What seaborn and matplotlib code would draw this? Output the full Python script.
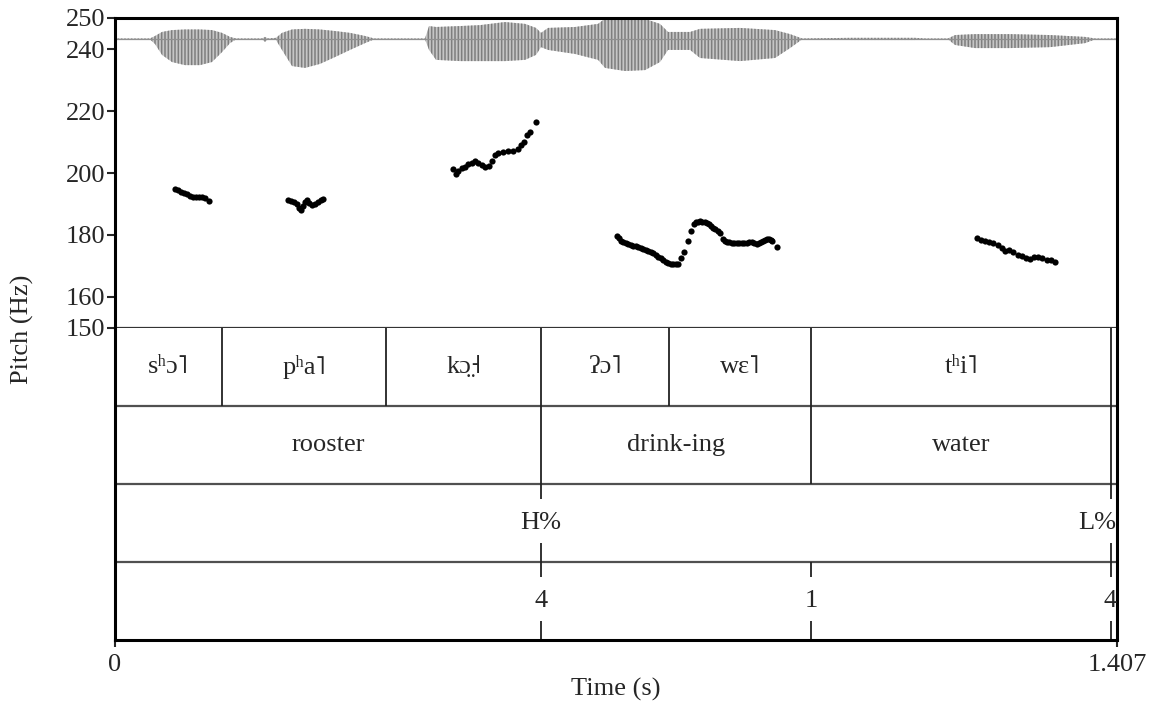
import matplotlib
matplotlib.use("Agg")
import matplotlib.pyplot as plt
import numpy as np
import pandas as pd
import seaborn as sns

# ---------------- data ----------------
t_max = 1.407
pitch_ticks = [150, 160, 180, 200, 220, 240, 250]

# pitch track, five voiced stretches (time s, F0 Hz)
seg1_t = [0.0843, 0.0885, 0.0927, 0.0969, 0.1011, 0.1053, 0.1095, 0.1137, 0.1180, 0.1222, 0.1264, 0.1320]
seg1_f = [194.8, 194.4, 193.9, 193.5, 193.2, 192.7, 192.4, 192.3, 192.3, 192.4, 191.8, 191.0]

seg2_t = [0.2429, 0.2472, 0.2514, 0.2556, 0.2584, 0.2612, 0.2640, 0.2668, 0.2696, 0.2724, 0.2766, 0.2809, 0.2851, 0.2893, 0.2921]
seg2_f = [191.3, 191.1, 190.7, 190.0, 188.7, 188.1, 189.4, 190.7, 191.3, 190.3, 189.7, 190.0, 190.7, 191.3, 191.6]

seg3_t = [0.4742, 0.4789, 0.4821, 0.4869, 0.4915, 0.4961, 0.5009, 0.5055, 0.5102, 0.5150, 0.5196, 0.5256,
          0.5298, 0.5336, 0.5383, 0.5453, 0.5523, 0.5593, 0.5655, 0.5701, 0.5744, 0.5790, 0.5828, 0.5908]
seg3_f = [201.2, 199.7, 200.7, 201.5, 202.0, 202.9, 203.3, 204.0, 203.3, 202.6, 202.0, 202.3,
          204.0, 205.8, 206.6, 206.9, 207.2, 207.0, 207.7, 209.0, 210.1, 212.3, 213.3, 216.6]

seg4_t = [0.7045, 0.7075, 0.7105, 0.7138, 0.7170, 0.7208, 0.7243, 0.7278, 0.7313, 0.7349, 0.7384, 0.7419,
          0.7454, 0.7489, 0.7524, 0.7559, 0.7594, 0.7630, 0.7665, 0.7700, 0.7735, 0.7770, 0.7805, 0.7840,
          0.7872, 0.7902, 0.7948, 0.7991, 0.8042, 0.8089, 0.8135, 0.8163, 0.8191, 0.8219, 0.8247, 0.8278,
          0.8309, 0.8340, 0.8370, 0.8398, 0.8426, 0.8461, 0.8496, 0.8542, 0.8566, 0.8590, 0.8625, 0.8660,
          0.8695, 0.8730, 0.8765, 0.8801, 0.8836, 0.8871, 0.8906, 0.8941, 0.8976, 0.9011, 0.9042, 0.9072,
          0.9100, 0.9128, 0.9156, 0.9184, 0.9207, 0.9230, 0.9292]
seg4_f = [179.7, 178.9, 178.2, 177.7, 177.4, 177.1, 176.8, 176.5, 176.3, 176.0, 175.8, 175.5,
          175.2, 174.8, 174.5, 174.1, 173.6, 173.0, 172.5, 171.9, 171.4, 171.1, 170.8, 170.6,
          170.6, 170.7, 172.5, 174.6, 178.1, 181.4, 183.6, 184.1, 184.3, 184.4, 184.3, 184.1,
          183.8, 183.4, 182.9, 182.4, 181.9, 181.3, 180.7, 178.7, 178.0, 177.7, 177.6, 177.5,
          177.5, 177.5, 177.5, 177.5, 177.5, 177.5, 177.6, 177.7, 177.4, 177.1, 177.4, 177.7,
          178.0, 178.4, 178.6, 178.8, 178.5, 178.2, 176.2]

seg5_t = [1.2101, 1.2161, 1.2217, 1.2274, 1.2334, 1.2396, 1.2452, 1.2498, 1.2555, 1.2615,
          1.2677, 1.2733, 1.2789, 1.2849, 1.2910, 1.2966, 1.3022, 1.3084, 1.3144, 1.3200]
seg5_f = [179.0, 178.5, 178.2, 177.7, 177.4, 176.9, 175.8, 174.9, 175.1, 174.5,
          173.7, 173.1, 172.6, 172.4, 172.8, 172.8, 172.6, 172.0, 171.8, 171.2]

# waveform envelope drawn in the top strip (time s, upper / lower edge on the Hz scale)
wave_baseline = 243.23
wave_t = [0.0, 0.0492, 0.0562, 0.0660, 0.0800, 0.0983, 0.1194, 0.1362, 0.1503, 0.1615, 0.1699,
          0.2064, 0.2106, 0.2149, 0.2261, 0.2345, 0.2486, 0.2668, 0.2879, 0.3089, 0.3300, 0.3511, 0.3637,
          0.4353, 0.4410, 0.4508, 0.4845, 0.5126, 0.5477, 0.5758, 0.5912, 0.5982, 0.6081, 0.6460, 0.6783,
          0.6881, 0.7162, 0.7443, 0.7653, 0.7766, 0.8075, 0.8215, 0.8777, 0.9268, 0.9479, 0.9648,
          1.0322, 1.1234, 1.1375, 1.1698, 1.1796, 1.2077, 1.2568, 1.3130, 1.3622, 1.3762, 1.4070]
wave_top = [243.4, 243.4, 244.2, 245.5, 246.1, 246.3, 246.3, 246.1, 245.2, 243.9, 243.4,
            243.4, 243.9, 243.4, 243.6, 245.2, 246.3, 246.5, 246.3, 245.8, 245.2, 244.2, 243.4,
            243.4, 247.4, 247.1, 247.4, 247.7, 248.7, 248.1, 246.8, 245.2, 246.8, 247.1, 248.1,
            249.8, 249.8, 249.7, 248.1, 245.5, 245.5, 246.5, 246.8, 246.1, 244.8, 243.4,
            243.6, 243.6, 243.4, 243.4, 244.5, 244.8, 244.8, 244.5, 243.9, 243.4, 243.4]
wave_bot = [243.1, 243.1, 241.6, 238.1, 235.8, 234.8, 234.8, 235.8, 239.0, 241.9, 243.1,
            243.1, 242.3, 243.1, 242.9, 239.7, 234.5, 233.9, 235.2, 237.4, 239.7, 241.9, 243.1,
            243.1, 239.7, 236.5, 236.1, 236.1, 236.1, 236.5, 238.1, 240.6, 239.7, 238.4, 236.5,
            233.9, 232.9, 233.2, 235.8, 239.7, 239.7, 237.1, 236.1, 237.1, 240.3, 243.1,
            242.9, 242.9, 243.1, 243.1, 241.3, 240.3, 240.3, 240.6, 241.9, 243.1, 243.1]

# TextGrid tiers
tier1_bounds = [0.1503, 0.3806, 0.5982, 0.7780, 0.9774, 1.3987]
tier1_labels = ["sʰɔ˥", "pʰa˥", "kɔ̤˧", "ʔɔ˥", "wɛ˥", "tʰi˥", ""]
tier2_bounds = [0.5982, 0.9774, 1.3987]
tier2_labels = ["rooster", "drink-ing", "water", ""]
tier3_times = [0.5982, 1.3987]
tier3_labels = ["H%", "L%"]
tier4_times = [0.5982, 0.9774, 1.3987]
tier4_labels = ["4", "1", "4"]

# ---------------- style ----------------
sns.set_style("white")
plt.rcParams["font.family"] = ["Liberation Serif", "DejaVu Serif", "DejaVu Sans"]
plt.rcParams["hatch.linewidth"] = 1.1
FS = 19

W, H = 1149, 704
fig = plt.figure(figsize=(W / 100, H / 100), dpi=100)
ax = fig.add_axes([115 / W, 1 - 328 / H, 1002 / W, 310 / H])
axt = fig.add_axes([115 / W, 1 - 640 / H, 1002 / W, 312 / H], sharex=ax)

# waveform
ax.fill_between(wave_t, wave_bot, wave_top, facecolor="#c6c6c6", edgecolor="#7e7e7e",
                hatch="|||||", linewidth=0, zorder=1)
sns.lineplot(x=[0.0, t_max], y=[wave_baseline, wave_baseline], ax=ax, color="#909090",
             linewidth=0.9, zorder=2)

# pitch
segs = [(seg1_t, seg1_f), (seg2_t, seg2_f), (seg3_t, seg3_f), (seg4_t, seg4_f), (seg5_t, seg5_f)]
df = pd.concat([pd.DataFrame({"time": t, "pitch": f, "seg": i}) for i, (t, f) in enumerate(segs)],
               ignore_index=True)
sns.scatterplot(data=df, x="time", y="pitch", ax=ax, color="black", s=20, linewidth=0,
                legend=False, zorder=3)

ax.set_xlim(0, t_max)
ax.set_ylim(150, 250)
ax.set_yticks(pitch_ticks)
ax.set_yticklabels([str(v) for v in pitch_ticks])
ax.tick_params(axis="y", direction="out", length=6, width=1.5, pad=1, labelsize=FS, left=True)
ax.tick_params(axis="x", bottom=False, labelbottom=False)
ax.set_xlabel("")
ax.set_ylabel("")
for s in ["top", "left", "right"]:
    ax.spines[s].set_linewidth(2.2)
    ax.spines[s].set_color("black")
ax.spines["bottom"].set_linewidth(1.6)
ax.spines["bottom"].set_color("#333333")

# tiers
axt.set_ylim(4, 0)
axt.set_yticks([])
for s in ["left", "right", "bottom"]:
    axt.spines[s].set_linewidth(2.2)
    axt.spines[s].set_color("black")
axt.spines["top"].set_visible(False)
for yb in [1, 2, 3]:
    axt.axhline(yb, color="#505050", linewidth=1.6, zorder=1)

def interval_tier(row, bounds, labels):
    edges = [0.0] + bounds + [t_max]
    axt.vlines(bounds, row, row + 1, color="#222222", linewidth=1.3)
    for k, lab in enumerate(labels):
        if lab:
            axt.text((edges[k] + edges[k + 1]) / 2, row + 0.5, lab, ha="center", va="center",
                     fontsize=FS)

def point_tier(row, times, labels):
    for t, lab in zip(times, labels):
        axt.vlines(t, row, row + 0.19, color="#222222", linewidth=1.3)
        axt.vlines(t, row + 0.75, row + 1, color="#222222", linewidth=1.3)
        if t > t_max - 0.03:
            axt.text(t_max - 0.001, row + 0.5, lab, ha="right", va="center", fontsize=FS)
        else:
            axt.text(t, row + 0.5, lab, ha="center", va="center", fontsize=FS)

interval_tier(0, tier1_bounds, tier1_labels)
interval_tier(1, tier2_bounds, tier2_labels)
point_tier(2, tier3_times, tier3_labels)
point_tier(3, tier4_times, tier4_labels)

axt.set_xticks([0, t_max])
axt.set_xticklabels(["0", "1.407"])
axt.tick_params(axis="x", direction="out", length=5, width=1.5, pad=5, labelsize=FS, bottom=True)
axt.set_xlabel("")

fig.text(616 / W, 1 - 689 / H, "Time (s)", ha="center", va="center", fontsize=FS)
fig.text(22 / W, 1 - 329 / H, "Pitch (Hz)", rotation=90, ha="center", va="center", fontsize=FS)

fig.savefig("out.png", dpi=100, facecolor="white")
